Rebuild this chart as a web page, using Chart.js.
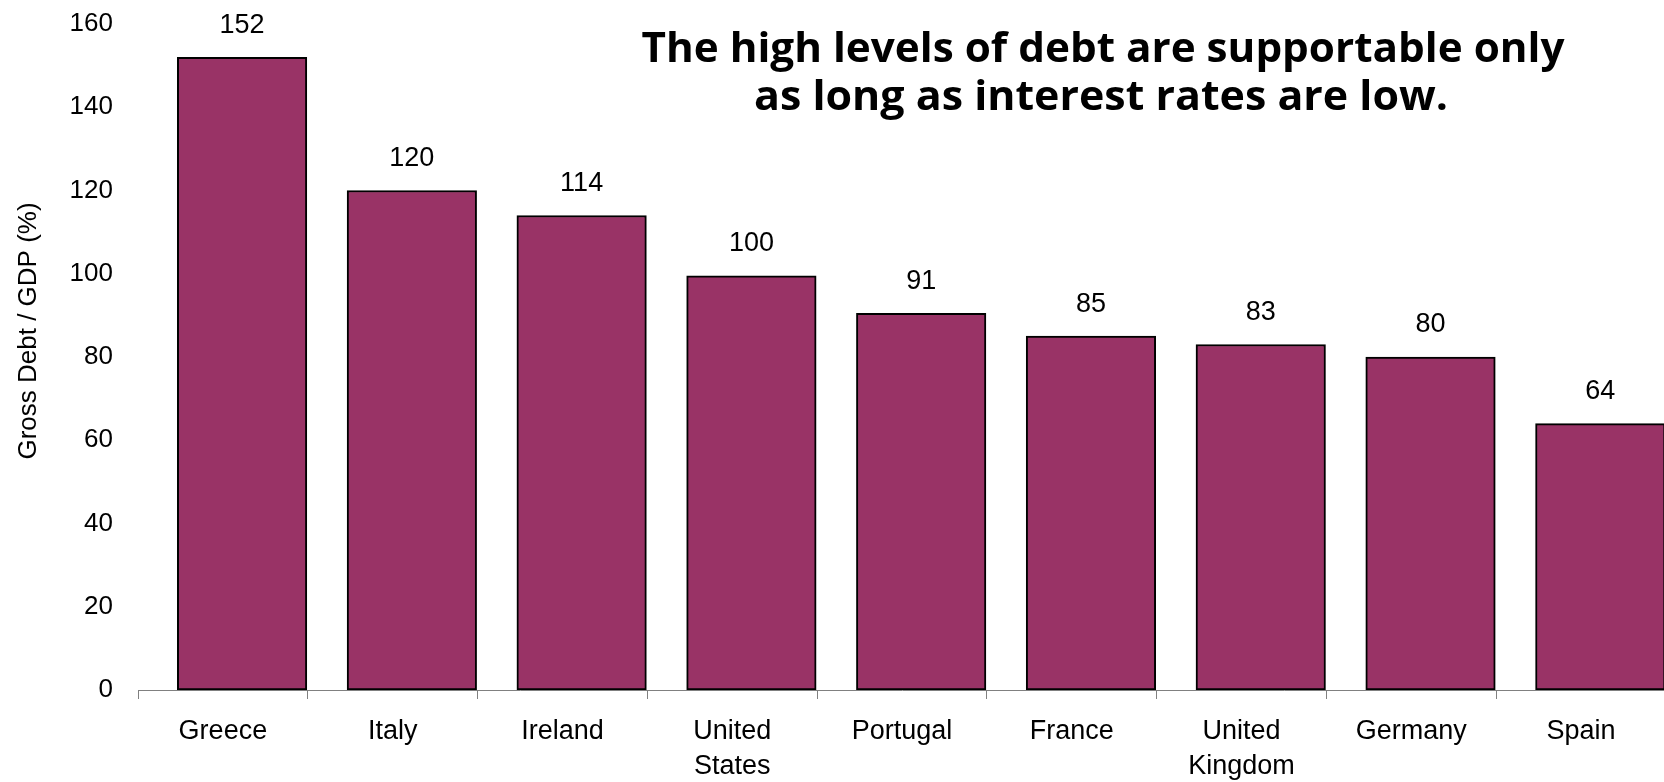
<!DOCTYPE html>
<html>
<head>
<meta charset="utf-8">
<script src="https://cdn.jsdelivr.net/npm/chart.js@4"></script>
<style>
    html, body { margin: 0; padding: 0; background: #ffffff; overflow: hidden; }
    #wrap { width: 1670px; height: 782px; }
</style>
</head>
<body>
<div id="wrap"><canvas id="debtChart" width="1670" height="782"></canvas></div>
<script>
// ==========================================
// 1. DATA
// ==========================================
const COUNTRIES = [
    'Greece', 'Italy', 'Ireland', ['United', 'States'], 'Portugal',
    'France', ['United', 'Kingdom'], 'Germany', 'Spain'
];
const DEBT_PCT = [152, 120, 114, 99.5, 90.5, 85, 83, 80, 64];
const Y_TICKS = [0, 20, 40, 60, 80, 100, 120, 140, 160];

const TITLE_LINES = [
    'The high levels of debt are supportable only',
    'as long as interest rates are low.'
];
const Y_TITLE = 'Gross Debt / GDP (%)';

// ==========================================
// 2. STYLE
// ==========================================
const BAR_FILL = '#993366';
const AXIS_GRAY = '#808080';
const BASE_FONT = 'Arial, "Liberation Sans", sans-serif';
const BAR_SHIFT = 0.113;   // bars sit right of the category centre, as in the original

// value labels above the bars
const valueLabels = {
    id: 'valueLabels',
    afterDatasetsDraw(chart) {
        const ctx = chart.ctx;
        const meta = chart.getDatasetMeta(0);
        ctx.save();
        ctx.font = '27px ' + BASE_FONT;
        ctx.fillStyle = '#000';
        ctx.textAlign = 'center';
        ctx.textBaseline = 'middle';
        meta.data.forEach((bar, i) => {
            ctx.fillText(String(Math.round(DEBT_PCT[i])), bar.x, bar.y - 32);
        });
        ctx.restore();
    }
};

// headline + y title
const textBits = {
    id: 'textBits',
    afterDraw(chart) {
        const ctx = chart.ctx;
        ctx.save();
        ctx.fillStyle = '#000';

        // headline, squeezed to the original width
        ctx.font = 'bold 41px "Comic Sans MS", "Open Sans", sans-serif';
        ctx.textBaseline = 'alphabetic';
        ctx.textAlign = 'center';
        const widths = [923, 694];
        const centers = [1103, 1101];
        const baselines = [62, 110];
        TITLE_LINES.forEach((line, i) => {
            const w = ctx.measureText(line).width;
            const sx = widths[i] / w;
            ctx.save();
            ctx.translate(centers[i], baselines[i]);
            ctx.scale(sx, 1);
            ctx.fillText(line, 0, 0);
            ctx.restore();
        });

        // y axis title
        ctx.font = '26px ' + BASE_FONT;
        ctx.textBaseline = 'middle';
        ctx.translate(29, 331);
        ctx.rotate(-Math.PI / 2);
        ctx.fillText(Y_TITLE, 0, 0);
        ctx.restore();
    }
};

// ==========================================
// 3. CHART
// ==========================================
const ctx = document.getElementById('debtChart').getContext('2d');

new Chart(ctx, {
    type: 'bar',
    data: {
        labels: COUNTRIES,
        datasets: [{
            label: 'Gross Debt / GDP (%)',
            data: DEBT_PCT.map((v, i) => ({ x: i, y: v })),
            xAxisID: 'xb',
            yAxisID: 'y',
            backgroundColor: BAR_FILL,
            borderColor: '#000000',
            borderWidth: 2,
            borderSkipped: false,
            barThickness: 129.5
        }]
    },
    options: {
        responsive: false,
        animation: false,
        devicePixelRatio: 1,
        layout: { padding: { top: 24, right: 4, left: 0, bottom: 0 } },
        plugins: {
            legend: { display: false },
            tooltip: { enabled: false },
            title: { display: false }
        },
        scales: {
            x: {
                type: 'category',
                position: 'bottom',
                offset: true,
                afterFit: s => { s.height = 92; },
                grid: {
                    offset: true,
                    drawOnChartArea: false,
                    drawTicks: true,
                    tickLength: 9,
                    color: AXIS_GRAY,
                    lineWidth: 1
                },
                border: { display: true, color: AXIS_GRAY, width: 1 },
                ticks: {
                    color: '#000',
                    font: { family: BASE_FONT, size: 27, lineHeight: 1.3 },
                    padding: 15,
                    maxRotation: 0,
                    autoSkip: false
                }
            },
            xb: {
                type: 'linear',
                display: false,
                offset: false,
                min: -0.5 - BAR_SHIFT,
                max: COUNTRIES.length - 0.5 - BAR_SHIFT
            },
            y: {
                type: 'linear',
                position: 'left',
                min: 0,
                max: 160,
                afterFit: s => {
                    s.width = 138;
                    s.paddingTop = 0;
                    s.paddingBottom = 0;
                },
                afterBuildTicks: s => { s.ticks = Y_TICKS.map(v => ({ value: v })); },
                grid: { display: false, drawTicks: false },
                border: { display: false },
                ticks: {
                    color: '#000',
                    font: { family: BASE_FONT, size: 26 },
                    padding: 25
                }
            }
        }
    },
    plugins: [valueLabels, textBits]
});
</script>
</body>
</html>
